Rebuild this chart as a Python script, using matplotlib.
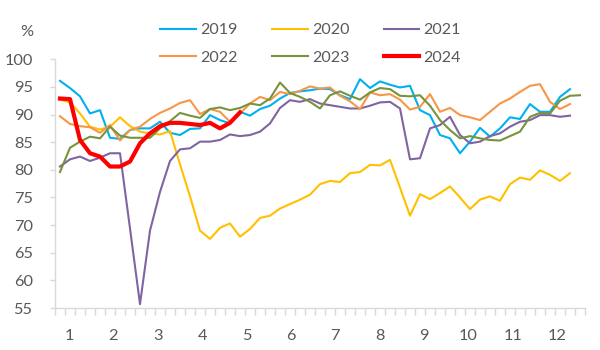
import matplotlib
matplotlib.use("Agg")
import matplotlib.pyplot as plt
import numpy as np

plt.rcParams['font.family'] = ['Lato', 'DejaVu Sans']

# weekly values, one list per year
y2019 = [96.1, 94.8, 93.3, 90.2, 90.8, 85.8, 85.6, 87.2, 87.5, 87.5,
         88.7, 86.7, 86.3, 87.4, 87.5, 89.9, 89.0, 88.4, 90.5, 89.8,
         91.0, 91.6, 92.9, 93.9, 94.2, 94.4, 94.7, 94.6, 93.5, 92.8,
         96.4, 94.8, 96.0, 95.4, 94.9, 95.2, 90.8, 89.9, 86.3, 85.7,
         83.0, 85.1, 87.6, 86.0, 87.5, 89.5, 89.2, 91.9, 90.5, 90.5,
         93.2, 94.6]
y2020 = [92.7, 92.2, 90.2, 87.8, 87.3, 87.8, 89.5, 87.9, 86.9, 86.6,
         86.4, 87.0, 81.0, 75.2, 69.0, 67.5, 69.5, 70.3, 67.9, 69.3,
         71.3, 71.7, 73.0, 73.8, 74.6, 75.5, 77.4, 78.0, 77.8, 79.4,
         79.6, 80.9, 80.8, 81.8, 76.8, 71.7, 75.6, 74.7, 75.8, 77.0,
         75.0, 72.9, 74.6, 75.2, 74.4, 77.4, 78.6, 78.2, 79.9, 79.1,
         78.0, 79.4]
y2021 = [80.6, 81.9, 82.4, 81.6, 82.2, 83.0, 83.0, 69.4, 55.7, 69.0,
         76.0, 81.6, 83.7, 83.9, 85.1, 85.1, 85.4, 86.4, 86.1, 86.3,
         86.9, 88.4, 91.2, 92.6, 92.3, 92.8, 92.0, 91.7, 91.4, 91.1,
         91.1, 91.6, 92.2, 92.3, 91.1, 81.9, 82.1, 87.5, 88.1, 89.6,
         86.3, 84.8, 85.1, 86.1, 86.6, 87.8, 88.7, 89.0, 89.9, 89.9,
         89.6, 89.8]
y2022 = [89.7, 88.3, 87.9, 87.7, 86.7, 88.1, 85.3, 87.2, 87.8, 89.2,
         90.3, 91.1, 92.1, 92.6, 90.1, 91.0, 90.5, 88.7, 90.2, 92.0,
         93.2, 92.6, 94.1, 93.7, 94.3, 95.1, 94.7, 94.9, 93.4, 92.4,
         91.0, 94.0, 93.5, 93.7, 92.7, 90.9, 91.4, 93.7, 90.5, 91.2,
         89.9, 89.5, 89.0, 90.5, 92.0, 92.9, 94.1, 95.2, 95.5, 92.3,
         91.0, 91.9]
y2023 = [79.6, 84.0, 85.1, 86.0, 85.7, 87.8, 86.2, 85.8, 85.8, 85.8,
         87.5, 88.8, 90.3, 89.8, 89.4, 91.0, 91.3, 90.8, 91.2, 92.0,
         91.7, 92.9, 95.8, 93.9, 93.2, 92.3, 91.1, 93.5, 94.2, 93.4,
         92.7, 94.0, 94.8, 94.6, 93.4, 93.3, 93.5, 91.6, 89.0, 87.2,
         85.7, 86.1, 85.7, 85.4, 85.3, 86.1, 86.9, 89.6, 90.3, 90.2,
         92.5, 93.4, 93.5]
y2024 = [92.9, 92.8, 85.4, 83.0, 82.4, 80.6, 80.6, 81.5, 84.8, 86.6,
         87.9, 88.5, 88.5, 88.3, 88.1, 88.5, 87.5, 88.5, 90.4]

months = ['1', '2', '3', '4', '5', '6', '7', '8', '9', '10', '11', '12']
n_weeks = 53

series = [
    ('2019', y2019, '#00B0F0', 1.5),
    ('2020', y2020, '#FFC000', 1.5),
    ('2021', y2021, '#8064A2', 1.5),
    ('2022', y2022, '#F79646', 1.5),
    ('2023', y2023, '#77933C', 1.5),
    ('2024', y2024, '#FF0000', 3.0),
]

fig = plt.figure(figsize=(6, 3.5), dpi=100)
ax = fig.add_axes([55/600, 1-308/350, 530/600, (308-59.3)/350])

lines = {}
for name, vals, col, lw in series:
    ln, = ax.plot(np.arange(len(vals)), vals, color=col, lw=lw,
                  solid_joinstyle='round', label=name)
    lines[name] = ln

gray = '#595959'
axis_gray = '#d9d9d9'

ax.set_xlim(-0.5, n_weeks - 0.5)
ax.set_ylim(55, 100)
ax.set_yticks(np.arange(55, 101, 5))
ax.tick_params(axis='y', colors=axis_gray, labelcolor=gray, labelsize=11.8,
               length=3.6, width=1, pad=12.5)

month_pos = np.linspace(0.9, 49.7, 12)
ax.set_xticks(month_pos)
ax.set_xticklabels(months)
ax.set_xticks(np.arange(n_weeks + 1) - 0.5, minor=True)
ax.tick_params(axis='x', which='major', length=0, labelcolor=gray,
               labelsize=11.8, pad=15)
ax.tick_params(axis='x', which='minor', length=5, width=1, colors=axis_gray)

for s in ['top', 'right']:
    ax.spines[s].set_visible(False)
for s in ['left', 'bottom']:
    ax.spines[s].set_color(axis_gray)
    ax.spines[s].set_linewidth(1)

fig.text(33/600, 1-32/350, '%', ha='right', va='center', color=gray, fontsize=11.8)

order = ['2019', '2022', '2020', '2023', '2021', '2024']
fig.legend([lines[k] for k in order], order, ncol=3, loc='center',
           bbox_to_anchor=(310.5/600, 1-44/350), frameon=False,
           fontsize=11.5, labelcolor=gray, handlelength=2.25,
           handletextpad=0.25, columnspacing=2.15, labelspacing=0.85)

fig.savefig('out.png', dpi=100)
